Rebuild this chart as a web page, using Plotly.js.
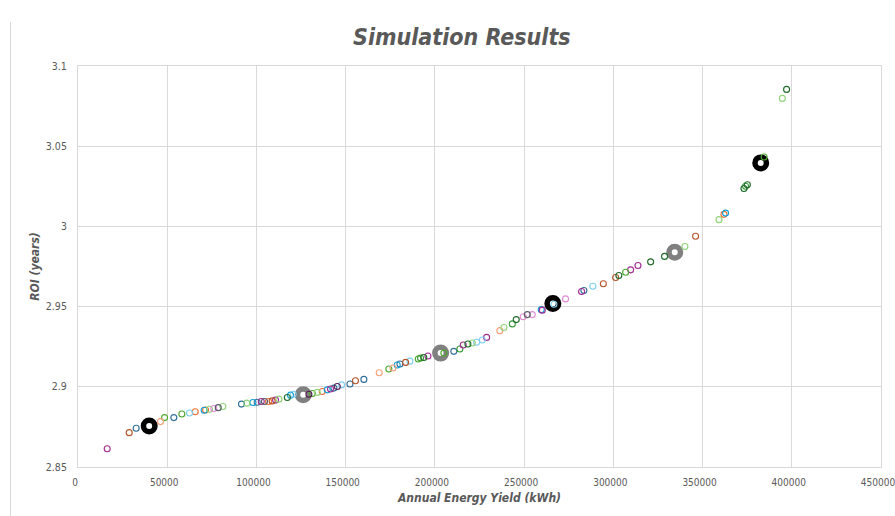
<!DOCTYPE html>
<html>
<head>
<meta charset="utf-8">
<script src="https://cdn.plot.ly/plotly-3.0.1.min.js"></script>
<style>html,body{margin:0;padding:0;background:#fff;}#chart{width:895px;height:516px;}</style>
</head>
<body>
<div id="chart"></div>
<script>
// ---- data ----
const energyYield = [16370, 28700, 32600, 46250, 48500, 53700, 58200, 62500, 65700, 70700,
  71500, 73700, 76100, 78600, 81200, 91600, 94600, 98000, 100400, 102700,
  104500, 106800, 108800, 110700, 112600, 117300, 119100, 120600, 129400, 131300,
  134100, 136900, 139700, 141500, 143400, 145300, 147700, 152400, 155500, 160200,
  168800, 174200, 176500, 178900, 180400, 183600, 186000, 190700, 191950, 193800,
  196100, 205000, 210600, 214000, 215900, 218500, 220960, 223400, 226600, 229000,
  236400, 238700, 243400, 245600, 249500, 251800, 254600, 259600, 260200, 266700,
  273200, 282200, 283500, 288500, 294400, 301300, 303100, 306900, 309700, 313800,
  320900, 328700, 340100, 346100, 359200, 362000, 362900, 373200, 374100, 375100,
  384500, 394700, 397100];
const roiYears = [2.8614, 2.8714, 2.8742, 2.8783, 2.8808, 2.8808, 2.8830, 2.8837, 2.8844, 2.8854,
  2.8855, 2.8860, 2.8865, 2.8870, 2.8877, 2.8892, 2.8898, 2.8902, 2.8904, 2.8908,
  2.8908, 2.8908, 2.8912, 2.8917, 2.8923, 2.8933, 2.8948, 2.8954, 2.8954, 2.8958,
  2.8965, 2.8971, 2.8981, 2.8986, 2.8992, 2.9002, 2.9012, 2.9017, 2.9038, 2.9046,
  2.9088, 2.9111, 2.9117, 2.9136, 2.9142, 2.9152, 2.9160, 2.9173, 2.9179, 2.9183,
  2.9192, 2.9210, 2.9221, 2.9236, 2.9261, 2.9267, 2.9273, 2.9278, 2.9292, 2.9308,
  2.9350, 2.9370, 2.9392, 2.9419, 2.9437, 2.9450, 2.9450, 2.9481, 2.9478, 2.9515,
  2.9548, 2.9594, 2.9600, 2.9627, 2.9642, 2.9681, 2.9694, 2.9714, 2.9729, 2.9756,
  2.9779, 2.9813, 2.9875, 2.9939, 3.0042, 3.0075, 3.0083, 3.0236, 3.0250, 3.0260,
  3.0433, 3.0798, 3.0854];
const seriesOf = ['S5', 'S12', 'S1', 'S8', 'S6', 'S1', 'S6', 'S7', 'S2', 'S4',
  'S2', 'S9', 'S10', 'S11', 'S9', 'S1', 'S9', 'S4', 'S1', 'S5',
  'S11', 'S2', 'S12', 'S5', 'S9', 'S13', 'S4', 'S7', 'S14', 'S6',
  'S9', 'S2', 'S4', 'S5', 'S1', 'S14', 'S7', 'S1', 'S12', 'S1',
  'S8', 'S6', 'S8', 'S4', 'S1', 'S12', 'S7', 'S6', 'S3', 'S13',
  'S5', 'S6', 'S1', 'S3', 'S5', 'S13', 'S9', 'S7', 'S7', 'S5',
  'S8', 'S9', 'S3', 'S13', 'S10', 'S11', 'S10', 'S4', 'S5', 'S7',
  'S10', 'S5', 'S1', 'S7', 'S12', 'S12', 'S13', 'S6', 'S5', 'S5',
  'S13', 'S13', 'S9', 'S12', 'S9', 'S2', 'S4', 'S13', 'S3', 'S13',
  'S6', 'S9', 'S13'];
// highlighted runs (large rings)
const keyYield = [39900, 126200, 203200, 266100, 334400, 382600];
const keyRoi = [2.8756, 2.8950, 2.9210, 2.9520, 2.9839, 3.0396];
const keyGroup = ['A', 'B', 'B', 'A', 'B', 'A'];
const xTicks = [0, 50000, 100000, 150000, 200000, 250000, 300000, 350000, 400000, 450000];
const yTicks = [2.85, 2.9, 2.95, 3, 3.05, 3.1];

// ---- styles ----
const palette = {
  S1: '#2f6f9a', S2: '#E97132', S3: '#3a9a3a', S4: '#0F9ED5', S5: '#A02B93', S6: '#4EA72E',
  S7: '#7fcdf0', S8: '#f2a07a', S9: '#8fd477', S10: '#e08ad4', S11: '#5a5a6a', S12: '#b5542a',
  S13: '#1f6b2a', S14: '#5a1a55'
};
const keyColors = {A: '#000000', B: '#808080'};
const FONT = '"Liberation Sans Narrow", "Arial Narrow", "DejaVu Sans Condensed", sans-serif';

const traces = [];
Object.keys(keyColors).forEach(g => {
  const idx = keyGroup.map((v, i) => v === g ? i : -1).filter(i => i >= 0);
  traces.push({
    type: 'scatter', mode: 'markers', showlegend: false, hoverinfo: 'x+y',
    x: idx.map(i => keyYield[i]), y: idx.map(i => keyRoi[i]),
    marker: {symbol: 'circle-open', size: 11.5, line: {width: 5.5, color: keyColors[g]}, color: keyColors[g]}
  });
});
Object.keys(palette).forEach(s => {
  const idx = seriesOf.map((v, i) => v === s ? i : -1).filter(i => i >= 0);
  if (!idx.length) return;
  traces.push({
    type: 'scatter', mode: 'markers', showlegend: false, hoverinfo: 'x+y',
    x: idx.map(i => energyYield[i]), y: idx.map(i => roiYears[i]),
    marker: {symbol: 'circle-open', size: 6, line: {width: 1.1, color: palette[s]}, color: palette[s]}
  });
});

const gridC = '#d9d9d9';
const layout = {
  width: 895, height: 516,
  margin: {l: 77.5, r: 14.4, t: 66, b: 49.3},
  paper_bgcolor: '#ffffff', plot_bgcolor: '#ffffff',
  font: {family: FONT, color: '#595959'},
  title: {
    text: '<b><i>Simulation Results</i></b>',
    font: {family: FONT, size: 23, color: '#595959'},
    x: 0.516, xref: 'container', xanchor: 'center',
    y: 1 - 37 / 516, yref: 'container', yanchor: 'middle'
  },
  xaxis: {
    range: [0, 450000], tickvals: xTicks, ticktext: xTicks.map(String),
    showgrid: true, gridcolor: gridC, gridwidth: 1,
    showline: true, linecolor: gridC, linewidth: 1, mirror: true,
    zeroline: false, ticks: '', ticklabelstandoff: 6, ticklabeloverflow: 'allow', ticklabelshift: -3,
    tickfont: {family: FONT, size: 10, color: '#595959'},
    title: {text: '<b><i>Annual Energy Yield (kWh)</i></b>', font: {family: FONT, size: 12, color: '#595959'}, standoff: 6}
  },
  yaxis: {
    range: [2.85, 3.1], tickvals: yTicks, ticktext: yTicks.map(String),
    showgrid: true, gridcolor: gridC, gridwidth: 1,
    showline: true, linecolor: gridC, linewidth: 1, mirror: true,
    zeroline: false, ticks: '', ticklabelstandoff: 8,
    tickfont: {family: FONT, size: 10.5, color: '#595959'},
    title: {text: '<b><i>ROI (years)</i></b>', font: {family: FONT, size: 12, color: '#595959'}, standoff: 3}
  },
  shapes: [{
    type: 'line', xref: 'paper', yref: 'paper',
    x0: (10 - 77.5) / 803.1, x1: (10 - 77.5) / 803.1,
    y0: (466.7 - 516) / 400.7, y1: (466.7 - 22) / 400.7,
    line: {color: gridC, width: 1}
  }]
};
Plotly.newPlot('chart', traces, layout, {staticPlot: true, displayModeBar: false});
</script>
</body>
</html>
